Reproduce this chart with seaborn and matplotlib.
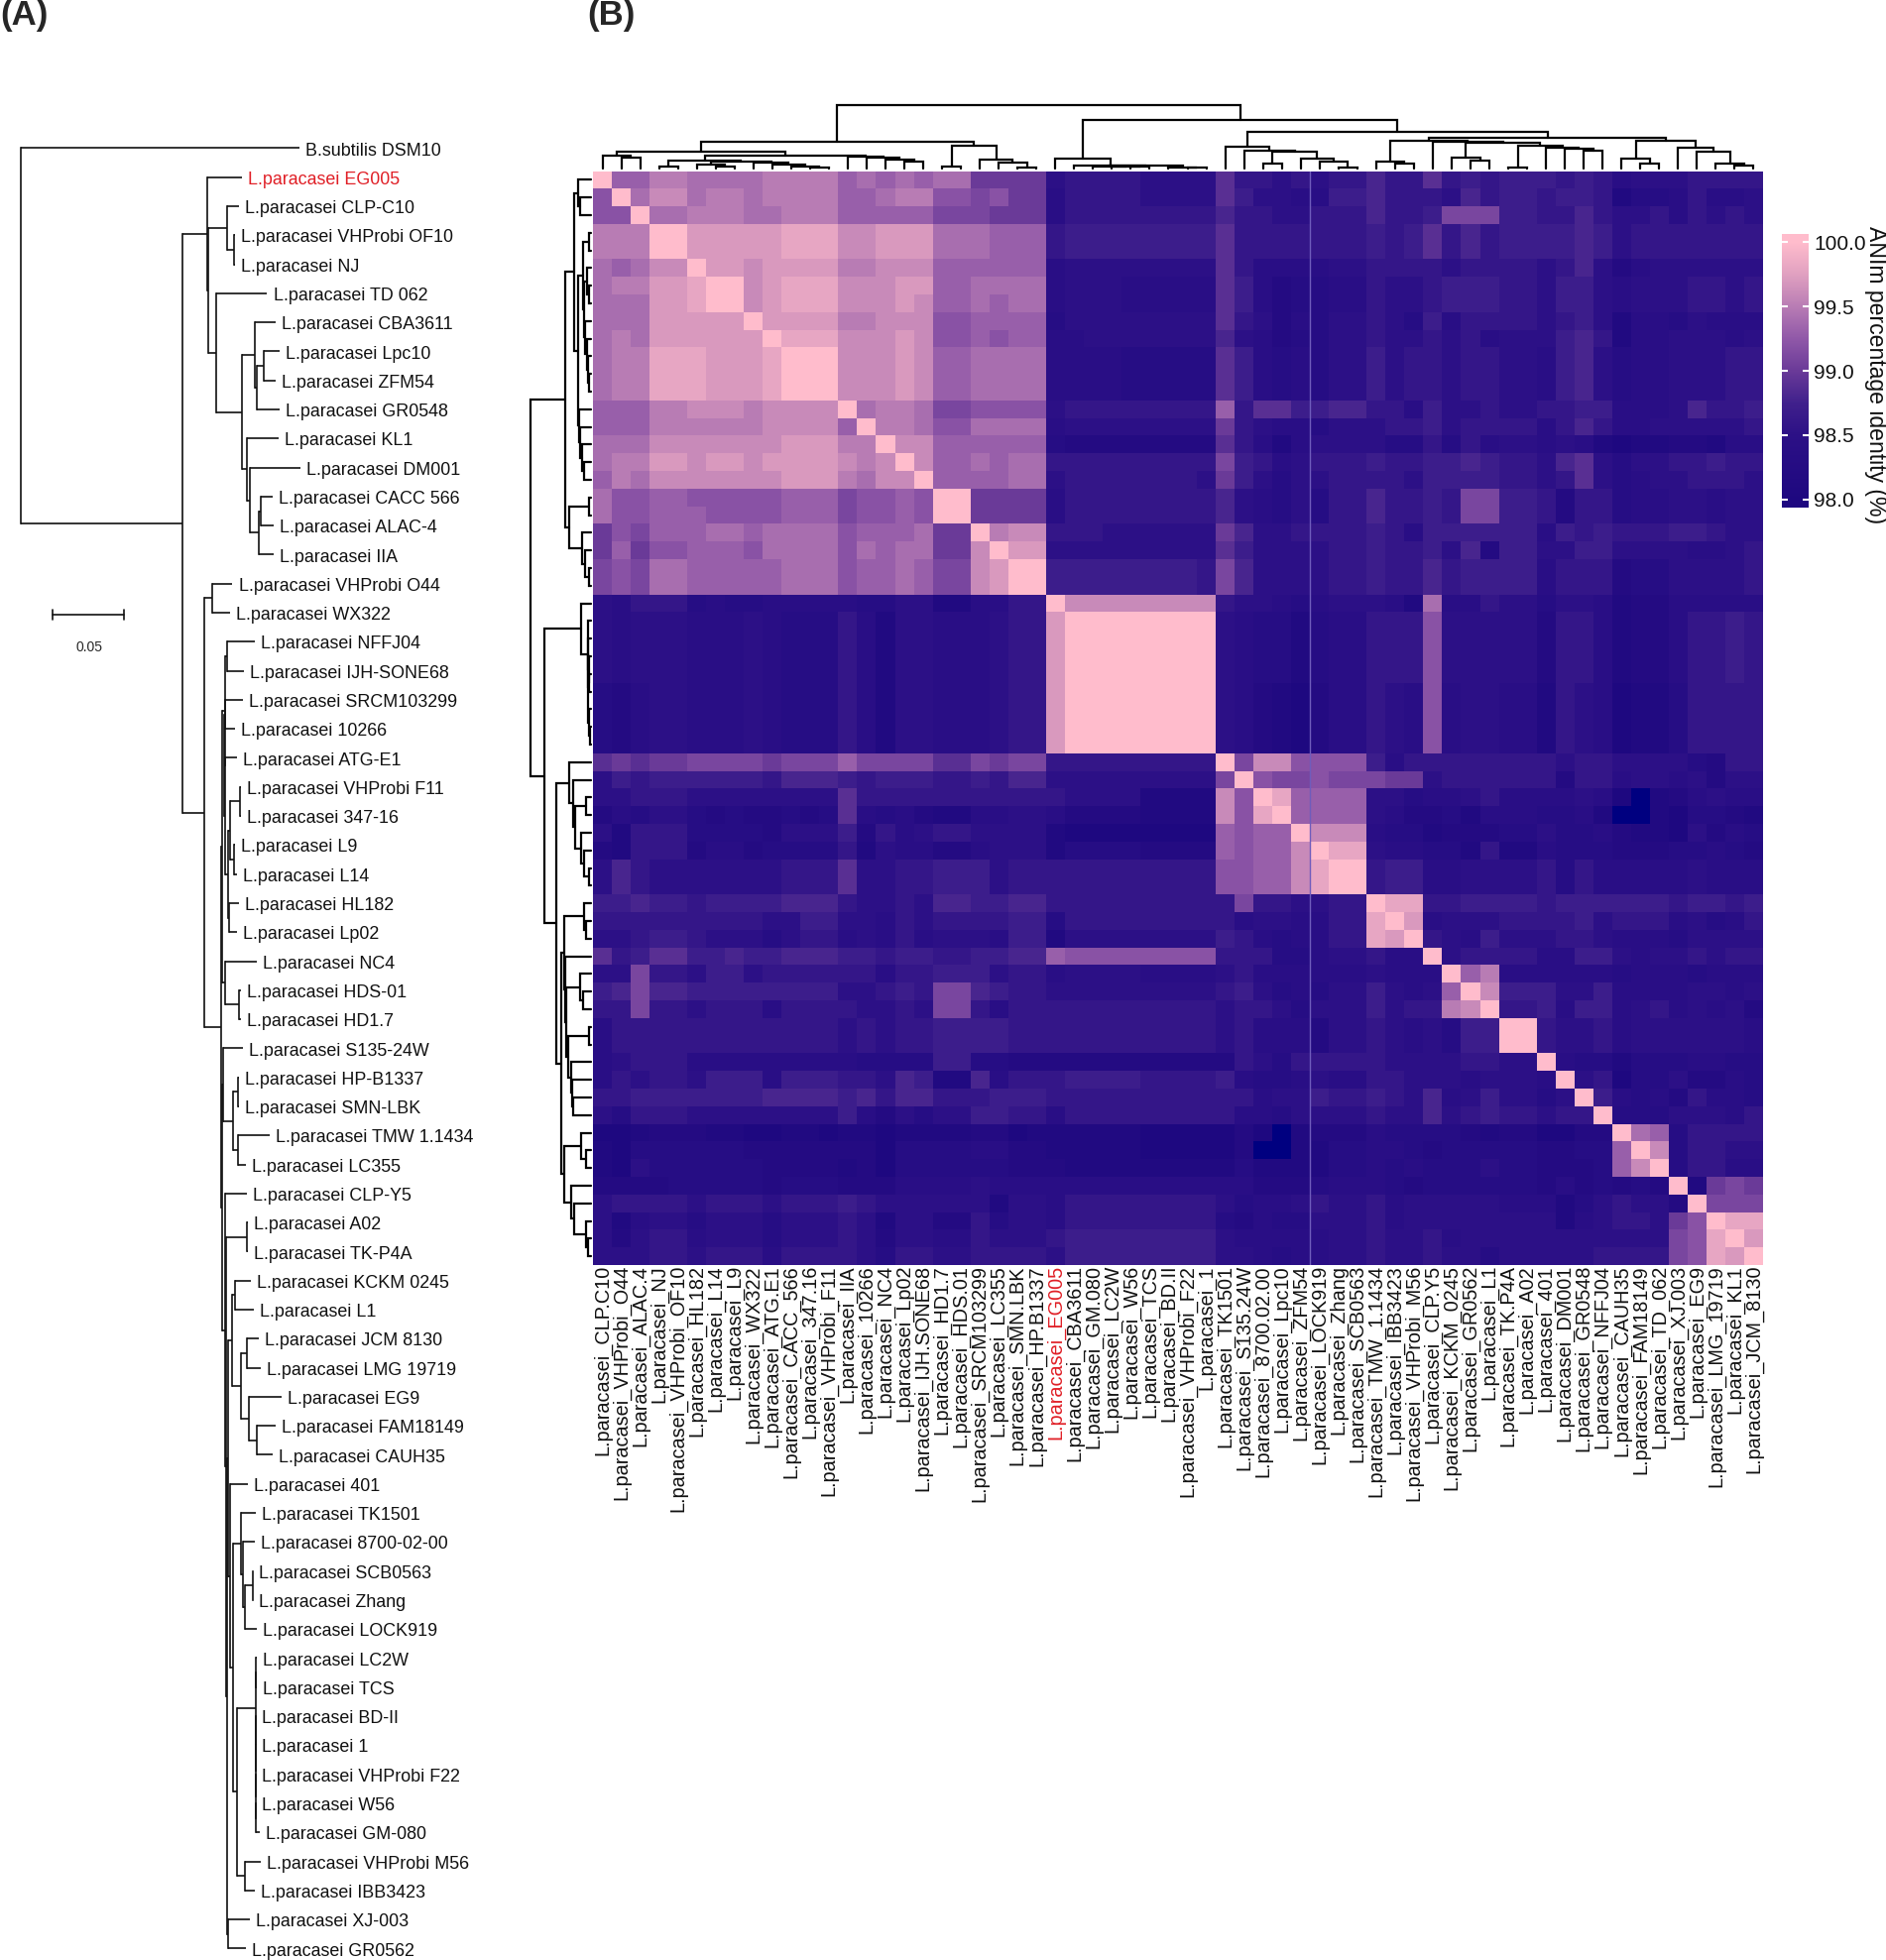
import numpy as np
import pandas as pd
import seaborn as sns
import matplotlib.pyplot as plt
from matplotlib.colors import LinearSegmentedColormap

# ---- heatmap labels, in clustered order
STRAINS = [
    "CLP.C10", "VHProbi_O44", "ALAC.4", "NJ", "VHProbi_OF10", "HL182", "L14", "L9", "WX322", "ATG.E1",
    "CACC_566", "347.16", "VHProbi_F11", "IIA", "10266", "NC4", "Lp02", "IJH.SONE68", "HD1.7", "HDS.01",
    "SRCM103299", "LC355", "SMN.LBK", "HP.B1337", "EG005", "CBA3611", "GM.080", "LC2W", "W56", "TCS",
    "BD.II", "VHProbi_F22", "1", "TK1501", "S135.24W", "8700.02.00", "Lpc10", "ZFM54", "LOCK919", "Zhang",
    "SCB0563", "TMW_1.1434", "IBB3423", "VHProbi_M56", "CLP.Y5", "KCKM_0245", "GR0562", "L1", "TK.P4A", "A02",
    "401", "DM001", "GR0548", "NFFJ04", "CAUH35", "FAM18149", "TD_062", "XJ.003", "EG9", "LMG_19719",
    "KL1", "JCM_8130",
]
RED_STRAIN = "EG005"

# ---- identity, one letter per cell (spaces only group columns)
LEVEL_CODES = "abcdefghijklmnopqrstuv"
LEVEL_VALUES = [97.8, 98.0, 98.1, 98.2, 98.3, 98.4, 98.5, 98.6, 98.7, 98.8, 98.9,
                99.0, 99.1, 99.2, 99.3, 99.4, 99.5, 99.6, 99.7, 99.8, 99.9, 100.0]
IDENTITY_ROWS = [
    "voo qq ppppqqqq opopo ppllll ghhhhgggg khhghghh jhhkhih iiihih fggghhhh",
    "nvp rr pqqpqqqq oopqq nnmnll fhhhhgggg kiggffii jhhhgjh iihiih ceefhffg",
    "nnv pp qqqppqqq ooooo mmmlll fhhhhhhhh jhhgghhh jhhimmm iihhjh gghfhghg",
    "qqq vv sssssttt rrsss pppooo hiiiiiiii khhhhhhh ihikhjh iiiiji ghhhhhhh",
    "qqq vv sssssttt rrsss pppooo hiiiiiiii khhhhhhh ihikhjh iiiiji ghhhhhhh",
    "pop rr vssrssss qqrrr oooooo fgggggggg khffffgg hhhhghh hhghjg dfgggggg",
    "pqq ss tvvrsttt rrrss oopppp fgggfffff kifdeeff hgghiii hhgiig fggghhgh",
    "ppp ss tvvrsttt rrrsr oopopp fgggfffff kifdeeff hgghiii hhgiig fggghhgh",
    "ppp ss sssvssss qqrrr nnoooo egggggggg khgdfegg hgeifhh hhghig cffegfff",
    "pqp ss ssssvttt rrrsr nnonoo ffggggggg jgfdeegg hgghghf gggijh cffgggfg",
    "pqq tt tssstvvv rrrsr oopppp ffffeeeee kifefegg ighhghh ggfijg effggghh",
    "pqq tt tssstvvv rrrsr oopppp ffffeeeee kifefegg ighhghh ggfijg effggghh",
    "pqq tt tssstvvv rrrsr oopppp ffffeeeee kifefegg ighhghh ggfijg effggghh",
    "ooo qq rrrqrrrr vpqqp mmnnnn ghhhhhhhh ohkkiijj hhfiggh gghhii fffgjhhi",
    "ooo qq qqqqrrrr ovqqp nnpppp fgggggggg lhgffegg ghhighh hhfhjh ffgggggh",
    "ppp rr rrrrrsss qqvrr oooooo edddddddd khfcfggg geehehf ggfgfc bccddcff",
    "pqq ss rssrssss rqrvr oopopp hhhhhhhhh mihfghhh ihhiiji hhgjkg egghhihh",
    "oqp rr rrrrrsss qprrv oooopp ghhhhhhhg ligegghh hhgiiii hhghkg efgghhhg",
    "pnn oo nnnnnooo mnnon vvllll fhhhhhhhh jgfegehh jhhihmm iihdhh effggfgg",
    "pnn oo onnnnooo mnnon vvllll fhhhhhhhh jgfegehh jhhihmm iihdhh effggfgg",
    "lnm oo oppopppp nooop llvqrr hhhgggggg ljgghhhh ihfiiii iifihi hhhiihgg",
    "lol nn ooonpppp npopp llrvss ggggggggg kigggghh ihhigjd iiggii ggggffgh",
    "mnm pp oooooppp noopo mmrsvv iiiiiiiih mjgggghh ihhjhii iifhhh deeggggh",
    "mnm pp oooooppp noopo mmrsvv iiiiiiiih mjgggghh ihhjhii iifhhh deeggggh",
    "gfh hh efeeffff feegg ccffhh vrrrrrrrr hggfefgg gfcpffh ggeggf cddfffff",
    "gfg gg fffgfeee hfcgg fffghh svvvvvvvv gfeeceff hhhnggg ggdhhf cddfhhih",
    "gfg gg fffgfeee hfcgg fffghh svvvvvvvv gfeeceff hhhnggg ggdhhf cddfhhih",
    "gfg gg fffgfeee hfcgg fffghh svvvvvvvv gfeeceff hhhnggg ggdhhf cddfhhih",
    "gfg gg fffgfeee hfcgg fffghh svvvvvvvv gfeeceff hhhnggg ggdhhf cddfhhih",
    "edf gg fffgfeee hfcgg fffghh svvvvvvvv gfdcbdff hgfnfgg ffchgf bccehhhh",
    "edf gg fffgfeee hfcgg fffghh svvvvvvvv gfdcbdff hgfnfgg ffchgf bccehhhh",
    "edf gg fffgfeee hfcgg fffghh svvvvvvvv gfdcbdff hgfnfgg ffchgf bccehhhh",
    "edf gg fffgfeee hfcgg fffghh svvvvvvvv gfdcbdff hgfnfgg ffchgf bccehhhh",
    "klk ll mmmmlmmm ommmm kkmlmm hhhhhhhhh vmrrnnnn ifhhhhh hhhghh ggggedhh",
    "gih ii iiiihjjj ihiii hhihjj ggggggggg mvnmmnmm mllghhh hhhdhh fggfgdgg",
    "ggh hh gggggggg khhhh hhhhhh hggggcccc rnvtoooo ggeffgh ffffgf bacdfgff",
    "dfe gg ededdede kfefd ccffgg fddddcccc rntvoooo gfddecf ffeefc aacbeedc",
    "gch hh eeeedggg idhfg hhgggg cbbbbbbbb onoovrrr feecddd eegeef dccbgdfe",
    "dch hh dffdeeee hcgff ddfggg ceeeedddd onoorvtt gffeech ccfeee dddeefed",
    "gjh gg ggggghhh kgghh iiighh hhhhhhhhh nnoortvv hiiffgg gghehf ffffgfff",
    "gjh gg ggggghhh kgghh iiighh hhhhhhhhh nnoortvv hiiffgg gghehf ffffgfff",
    "iij ii hiiiijjj hgghg jjiijj hhhhhhhhh hmhhgghh vtthhii iihiii iiihiihi",
    "hhh hh hhhhggii ggfhg hhhhii ehhhhhhhh hfggffhh tvsfggg hhhhig hhhfgefh",
    "ggh ii hgggeghh fgfhf gggfii cgggggggg ihfeffhh tsvhgfi ggghhg fffegggg",
    "khi kk iijiijjj iihii hhiijj onnnnnnnn hhheefgg hffvghh hhffii gfgghghh",
    "ggm hh giighhhh hhfhh iiighh fggggffff ghffffff gfffvoq ffffff efffefff",
    "ijm jj iiiiiiii gghih mmjihh ggggggggg higefegg igfgovr iiiggi ffffggfg",
    "hhm hh ghhhfhhh hgghg mmhfhh hhhhhhhhh ghhgeggg ighhqrv hhifii fghfgfgd",
    "fhh hh hhhhhhhh ghghh iiiihh hhhhhhhhh ghfffdgg hgfgeii vvhggh fggggggf",
    "fhh hh hhhhhhhh ghghh iiiihh hhhhhhhhh ghfffdgg hgfgeii vvhggh fggggggf",
    "fgh hh ffffffff feeee iieedd ddddddddd dhgehhhh hgggghh ggvfee ceeeffee",
    "fhg hh giiifiii hhgji ccjfhh hiiiihhhh ifeefgff hhgggfg ggfvgh beegddfe",
    "hhi ii iiiijjjj ijhjj hhhiii hhhhhhhhh hhfggihh ihgjfgi ggegvi fefdhffe",
    "geh hh gggggggg ifdge ggiihh fhhhhhhhh hffegggg hggjghi hhghhv eeegggfh",
    "bbc dd dccbbccb ccbcc ccddbc cccccbbbb bdbacddd feeeedc ddbbdd vpoehhhh",
    "cbe ee eeeddddd ddbee eeffdd cccccbbbb bdaaccee ffedeee eeddee ovrehhgg",
    "cbg ee eeeedddd cdbee eeeedd dcccccccc ceccccee fefeeeg eeddde orvehhff",
    "ddd de eeeedeee dddff ffgfff fffffffff ffdddeff fedeeee eedfde dedvclml",
    "ghh hh ghhhghhh ihggg gggcgg fhhhhhhhh geffghgg hfggggg fffceg hggdvmmm",
    "gcf gg egggeggg hgcgg ddhegg fhhhhhhhh edfeeggg hfggggg gggcfg hhglnvtt",
    "gdg hh fgggeggg hgdgg ffhggg hiiiiiiii gfffffgg hgghfgg gggggg gggmntvs",
    "ggg hh ghhhfhhh hgehh gghhhh giiiiiiii ggfeffgg hgghgge gggggh hhhmntsv",
]

# ---- colour scale of the figure: value -> colour
SCALE_VALUES = [97.94, 98.0, 98.5, 98.75, 99.0, 99.25, 99.5, 99.75, 100.0, 100.06]
SCALE_COLORS = ["#1e0880", "#1e0880", "#2c1086", "#40208c", "#6a3a98", "#9058a8",
                "#b87cb4", "#e0a0c0", "#ffbccc", "#ffbccc"]
UNDER_COLOR = "#000080"
CBAR_TICKS = [98.0, 98.5, 99.0, 99.5, 100.0]

# ---- clustering shared by both dendrograms: (merge height, left, right), ints are leaves
CLUSTERS = (191,
    (80,
        (53,
            (41, 0, (35, 1, 2)),
            (41,
                (25, (6, 3, 4),
                    (23, (13, 5, (6, 6, 7)),
                        (18, 8, (13, 9, (8, 10, (5, 11, 12)))))),
                (38, 13, (33, 14, (28, 15, (23, 16, 17)))))),
        (70, (6, 18, 19), (28, 20, (20, 21, (5, 22, 23))))),
    (146,
        (31, 24, (10, 25, (9,
            (8, 26, (7, 27, (6, 28, 29))),
            (5, 30, (4, 31, 32))))),
        (111,
            (68, 33, (55, 34, (51, (15, 35, 36), (30, 37, (22, 38, (5, 39, 40)))))),
            (93,
                (83, (23, 41, (16, 42, 43)),
                    (81, 44, (78, (35, 45, (25, 46, 47)),
                        (71, (5, 48, 49), (63, 50, (60, 51, (56, 52, 53))))))),
                (83, (31, 54, (16, 55, 56)),
                    (63, 57, (52, 58, (16, 59, (10, 60, 61))))))))
)

# ---- panel A tree: (depth in 0.001 substitutions, label or children)
P = "L.paracasei "
PHYLOGENY = (0.0, [
    (194.9, "B.subtilis DSM10"),
    (113.4, [
        (130.8, [
            (155.1, P + "EG005"),
            (131.0, [
                (144.7, [(152.5, P + "CLP-C10"), (149.3, [(150.2, P + "VHProbi OF10"), (150.2, P + "NJ")])]),
                (136.6, [
                    (172.5, P + "TD 062"),
                    (155.1, [
                        (164.1, [
                            (178.7, P + "CBA3611"),
                            (165.5, [(169.9, [(181.0, P + "Lpc10"), (178.7, P + "ZFM54")]), (181.0, P + "GR0548")]),
                        ]),
                        (158.6, [
                            (180.6, P + "KL1"),
                            (160.2, [
                                (196.1, P + "DM001"),
                                (166.4, [(168.3, [(176.4, P + "CACC 566"), (177.1, P + "ALAC-4")]), (177.1, P + "IIA")]),
                            ]),
                        ]),
                    ]),
                ]),
            ]),
        ]),
        (128.2, [
            (134.3, [(148.2, P + "VHProbi O44"), (146.3, P + "WX322")]),
            (140.1, [
                (141.0, [
                    (142.8, [
                        (144.2, [(163.7, P + "NFFJ04"), (156.0, P + "IJH-SONE68")]),
                        (142.3, [
                            (143.3, [(155.6, P + "SRCM103299"), (150.2, P + "10266")]),
                            (143.0, [
                                (151.6, P + "ATG-E1"),
                                (145.1, [
                                    (146.3, [
                                        (153.3, [(154.4, P + "VHProbi F11"), (153.9, P + "347-16")]),
                                        (149.3, [(150.2, P + "L9"), (151.1, P + "L14")]),
                                    ]),
                                    (145.8, [(152.5, P + "HL182"), (151.6, P + "Lp02")]),
                                ]),
                            ]),
                        ]),
                    ]),
                    (142.8, [(165.5, P + "NC4"), (153.0, [(153.9, P + "HDS-01"), (153.9, P + "HD1.7")])]),
                ]),
                (140.8, [
                    (141.7, [
                        (155.6, P + "S135-24W"),
                        (148.6, [
                            (152.1, [(152.5, P + "HP-B1337"), (153.0, P + "SMN-LBK")]),
                            (152.1, [(174.1, P + "TMW 1.1434"), (157.9, P + "LC355")]),
                        ]),
                    ]),
                    (142.8, [
                        (158.3, P + "CLP-Y5"),
                        (143.8, [
                            (158.3, [(159.0, P + "A02"), (159.0, P + "TK-P4A")]),
                            (144.7, [
                                (145.3, [
                                    (147.9, [
                                        (149.8, [(161.3, P + "KCKM 0245"), (163.2, P + "L1")]),
                                        (154.4, [
                                            (158.6, [(166.7, P + "JCM 8130"), (168.3, P + "LMG 19719")]),
                                            (159.5, [(182.9, P + "EG9"), (165.5, [(178.7, P + "FAM18149"), (176.4, P + "CAUH35")])]),
                                        ]),
                                    ]),
                                    (146.3, [
                                        (159.0, P + "401"),
                                        (148.9, [
                                            (153.9, [
                                                (164.4, P + "TK1501"),
                                                (155.6, [
                                                    (163.7, P + "8700-02-00"),
                                                    (157.2, [(162.5, [(162.5, P + "SCB0563"), (162.5, P + "Zhang")]), (165.5, P + "LOCK919")]),
                                                ]),
                                            ]),
                                            (151.2, [
                                                (164.6, [
                                                    (164.9, [(165.5, P + "LC2W"), (165.5, P + "TCS")]),
                                                    (164.6, [
                                                        (164.8, P + "BD-II"),
                                                        (164.6, [
                                                            (164.8, P + "1"),
                                                            (164.6, [
                                                                (164.8, P + "VHProbi F22"),
                                                                (164.7, [(164.8, P + "W56"), (167.1, P + "GM-080")]),
                                                            ]),
                                                        ]),
                                                    ]),
                                                ]),
                                                (156.7, [(167.8, P + "VHProbi M56"), (163.7, P + "IBB3423")]),
                                            ]),
                                        ]),
                                    ]),
                                ]),
                                (144.9, [(160.2, P + "XJ-003"), (157.9, P + "GR0562")]),
                            ]),
                        ]),
                    ]),
                ]),
            ]),
        ]),
    ]),
])
RED_TIP = P + "EG005"
SCALE_BAR = 50.0  # 0.05 substitutions
SCALE_BAR_START = 22.1
SCALE_BAR_ROW = 16.07

FIG_W, FIG_H = 1902, 1977
INK = "black"
TREE_INK = "#111111"
RED = "#e01f26"


def px_box(left, top, right, bottom):
    # figure rectangle from pixel edges measured on the reference
    return [left / FIG_W, 1 - bottom / FIG_H, (right - left) / FIG_W, (bottom - top) / FIG_H]


def draw_dendro(ax, node, horizontal):
    if isinstance(node, int):
        return node + 0.5, 0
    height, left, right = node
    p1, h1 = draw_dendro(ax, left, horizontal)
    p2, h2 = draw_dendro(ax, right, horizontal)
    xs, ys = [p1, p1, p2, p2], [h1, height, height, h2]
    if horizontal:
        ax.plot(ys, xs, color=INK, lw=1.6, solid_joinstyle="miter", clip_on=False)
    else:
        ax.plot(xs, ys, color=INK, lw=1.6, solid_joinstyle="miter", clip_on=False)
    return (p1 + p2) / 2, height


def draw_tree(ax, node, next_row):
    # returns the row of this node, draws its children first
    depth, content = node
    if isinstance(content, str):
        row = next_row[0]
        next_row[0] += 1
        ax.annotate(content, xy=(depth, row), xytext=(4.4, -1.9), textcoords="offset points",
                    va="center", ha="left", fontsize=12.9,
                    color=RED if content == RED_TIP else "#111111")
        return row
    rows = [draw_tree(ax, child, next_row) for child in content]
    for child, row in zip(content, rows):
        ax.plot([depth, child[0]], [row, row], color=TREE_INK, lw=1.2, solid_capstyle="butt")
    ax.plot([depth, depth], [min(rows), max(rows)], color=TREE_INK, lw=1.2, solid_capstyle="projecting")
    return (min(rows) + max(rows)) / 2


sns.set_theme(style="white")
plt.rcParams["font.family"] = ["Liberation Sans", "DejaVu Sans"]

fig = plt.figure(figsize=(FIG_W / 100, FIG_H / 100), dpi=100)

# ---- panel A
ax_tree = fig.add_axes(px_box(0, 0, 520, FIG_H))
ax_tree.set_xlim(-21 / 1.44, 499 / 1.44)
ax_tree.set_ylim((FIG_H - 149.4) / 29.29, -149.4 / 29.29)
ax_tree.axis("off")
draw_tree(ax_tree, PHYLOGENY, [0])
ax_tree.plot([SCALE_BAR_START, SCALE_BAR_START + SCALE_BAR], [SCALE_BAR_ROW, SCALE_BAR_ROW], color=TREE_INK, lw=1.2)
for end in (SCALE_BAR_START, SCALE_BAR_START + SCALE_BAR):
    ax_tree.plot([end, end], [SCALE_BAR_ROW - 0.17, SCALE_BAR_ROW + 0.17], color=TREE_INK, lw=1.2)
ax_tree.text(SCALE_BAR_START + SCALE_BAR / 2 + 0.8, SCALE_BAR_ROW + 1.13, "0.05", ha="center", va="center", fontsize=10)

# ---- panel B heatmap
codes = ["".join(r.split()) for r in IDENTITY_ROWS]
for i, r in enumerate(codes):
    assert len(r) == len(STRAINS), (i, len(r))
lookup = dict(zip(LEVEL_CODES, LEVEL_VALUES))
labels = ["L.paracasei_" + s for s in STRAINS]
identity = pd.DataFrame([[lookup[c] for c in r] for r in codes], index=labels, columns=labels)

span = SCALE_VALUES[-1] - SCALE_VALUES[0]
cmap = LinearSegmentedColormap.from_list(
    "anim", [((v - SCALE_VALUES[0]) / span, c) for v, c in zip(SCALE_VALUES, SCALE_COLORS)], N=512)
cmap.set_under(UNDER_COLOR)

ax_heat = fig.add_axes(px_box(598, 172.5, 1778, 1276))
ax_cbar = fig.add_axes(px_box(1797, 236.4, 1823.5, 511.6))
sns.heatmap(identity, ax=ax_heat, cmap=cmap, vmin=SCALE_VALUES[0], vmax=SCALE_VALUES[-1],
            cbar_ax=ax_cbar, xticklabels=True, yticklabels=False, linewidths=0, rasterized=True)
ax_heat.set_xticks(np.arange(len(labels)) + 0.5)
ax_heat.set_xticklabels(labels, rotation=90, fontsize=14.3, color="#111111")
ax_heat.tick_params(axis="x", length=0, pad=0)
for tick in ax_heat.get_xticklabels():
    if tick.get_text().endswith(RED_STRAIN):
        tick.set_color(RED)
ax_heat.axvline(STRAINS.index("LOCK919"), color="#6f5cbc", lw=1.0)

ax_cbar.set_axisbelow(False)  # the white style puts ticks under the colours
ax_cbar.set_yticks(CBAR_TICKS)
ax_cbar.set_yticklabels([f"{t:.1f}" for t in CBAR_TICKS], fontsize=15, color="#111111")
ax_cbar.tick_params(axis="y", direction="in", length=4.2, width=1.5, color="white",
                    left=True, right=True, labelleft=False, labelright=True, pad=4)
for side in ax_cbar.spines.values():
    side.set_visible(False)
fig.text(1891 / FIG_W, 1 - 378 / FIG_H, "ANIm percentage identity (%)", rotation=270,
         ha="center", va="center", fontsize=16.6, color="#111111")

# ---- dendrograms
ax_top = fig.add_axes(px_box(598, 106, 1778, 170.5))
ax_top.set_xlim(0, len(labels))
ax_top.set_ylim(0, CLUSTERS[0])
ax_top.axis("off")
draw_dendro(ax_top, CLUSTERS, horizontal=False)

ax_left = fig.add_axes(px_box(535, 172.5, 596, 1276))
ax_left.set_xlim(CLUSTERS[0], 0)
ax_left.set_ylim(len(labels), 0)
ax_left.axis("off")
draw_dendro(ax_left, CLUSTERS, horizontal=True)

# ---- panel letters
fig.text(0 / FIG_W, 1 - 16 / FIG_H, "(A)", fontsize=25, fontweight="bold", va="center", ha="left")
fig.text(592 / FIG_W, 1 - 16 / FIG_H, "(B)", fontsize=25, fontweight="bold", va="center", ha="left")

fig.savefig("out.png", dpi=100, facecolor="white")
